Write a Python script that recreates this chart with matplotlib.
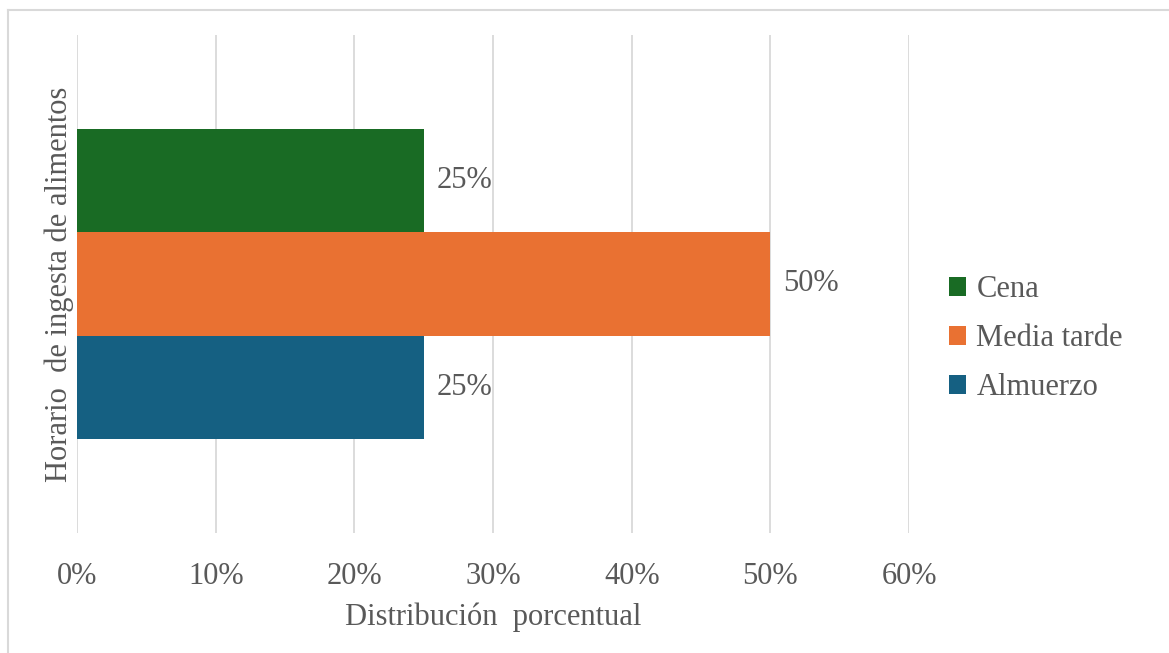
import matplotlib.pyplot as plt
from matplotlib.ticker import PercentFormatter
from matplotlib.lines import Line2D

plt.rcParams['font.family'] = ['Liberation Serif', 'DejaVu Serif']

series = ['Almuerzo', 'Media tarde', 'Cena']
values = [25, 50, 25]
colors = ['#156082', '#E97132', '#196B24']
xticks = [0, 10, 20, 30, 40, 50, 60]

text_color = '#595959'
grid_color = '#D9D9D9'
fs = 22

fig = plt.figure(figsize=(11.69, 6.53), dpi=100)
ax = fig.add_axes([0.0659, 0.1838, 0.7117, 0.7626])

h = 0.2075
offsets = [-h, 0, h]
handles = []
for name, v, c, off in zip(series, values, colors, offsets):
    b = ax.barh(off, v, height=h, color=c, label=name, zorder=3)
    ax.bar_label(b, labels=[f'{v}%'], padding=9, fontsize=fs, color=text_color)
    handles.append(b)

ax.set_xlim(0, 60)
ax.set_ylim(-0.5, 0.5)
ax.set_xticks(xticks)
ax.xaxis.set_major_formatter(PercentFormatter(decimals=0))
ax.set_yticks([])
ax.tick_params(axis='x', length=0, pad=21, labelsize=fs, labelcolor=text_color)
ax.grid(axis='x', color=grid_color, linewidth=1.3, zorder=0)
for s in ax.spines.values():
    s.set_visible(False)

ax.set_xlabel('Distribución  porcentual', fontsize=fs, color=text_color, labelpad=8)
ax.set_ylabel('Horario  de ingesta de alimentos', fontsize=fs, color=text_color, labelpad=2)

ax.legend(handles[::-1], series[::-1], loc='center left', bbox_to_anchor=(1.015, 0.39),
          frameon=False, fontsize=fs, labelcolor=text_color, handlelength=0.55,
          handleheight=0.55, handletextpad=0.35, labelspacing=0.65)

# thin frame edge along top and left
fig.add_artist(Line2D([8 / 1169, 1], [1 - 10 / 653] * 2, color=grid_color, lw=1.5))
fig.add_artist(Line2D([8 / 1169] * 2, [0, 1 - 10 / 653], color=grid_color, lw=1.5))

fig.savefig('out.png', dpi=100)
